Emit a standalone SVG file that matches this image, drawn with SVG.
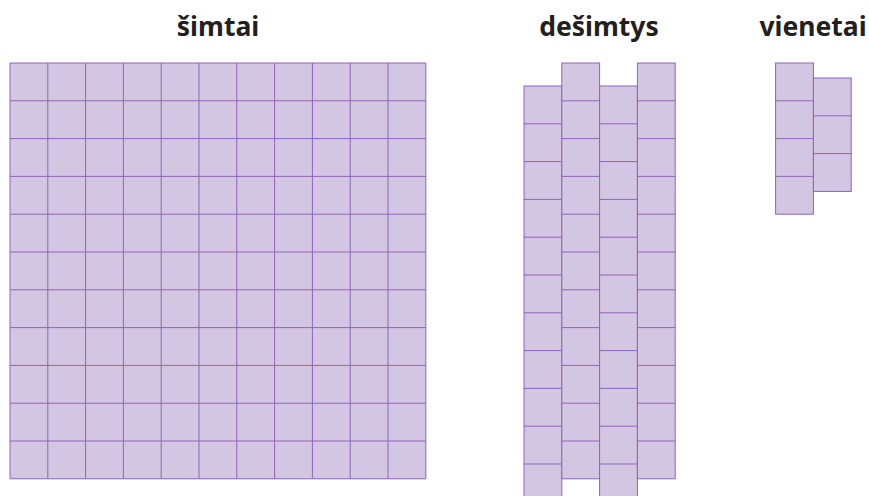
<svg xmlns="http://www.w3.org/2000/svg" width="869" height="496" viewBox="0 0 869 496">
<defs>
<style>
.t{font-family:"Noto Sans","Open Sans","DejaVu Sans",sans-serif;font-weight:bold;font-size:26.5px;fill:#231f20;text-anchor:middle}
.c{fill:#d3c6e2;stroke:#9163b9;stroke-width:1}
.l{stroke:#9163b9;stroke-width:1;fill:none}
</style>
</defs>
<rect width="869" height="496" fill="#fff"/>
<text class="t" x="218" y="36">šimtai</text>
<text class="t" x="599" y="36">dešimtys</text>
<text class="t" x="813" y="36">vienetai</text>
<g id="simtai">
<rect x="10" y="63" width="415.8" height="415.8" fill="#d3c6e2"/>
<path class="l" d="M10,63V478.8M47.8,63V478.8M85.6,63V478.8M123.4,63V478.8M161.2,63V478.8M199,63V478.8M236.8,63V478.8M274.6,63V478.8M312.4,63V478.8M350.2,63V478.8M388,63V478.8M425.8,63V478.8"/>
<path class="l" d="M10,63H425.8M10,100.8H425.8M10,138.6H425.8M10,176.4H425.8M10,214.2H425.8M10,252H425.8M10,289.8H425.8M10,327.6H425.8M10,365.4H425.8M10,403.2H425.8M10,441H425.8M10,478.8H425.8"/>
</g>
<g id="desimtys">
<g id="d1"><rect class="c" x="524" y="86" width="37.8" height="415.8"/>
<path class="l" d="M524,123.8h37.8M524,161.6h37.8M524,199.4h37.8M524,237.2h37.8M524,275h37.8M524,312.8h37.8M524,350.6h37.8M524,388.4h37.8M524,426.2h37.8M524,464h37.8"/></g>
<g id="d2"><rect class="c" x="561.8" y="63" width="37.8" height="415.8"/>
<path class="l" d="M561.8,100.8h37.8M561.8,138.6h37.8M561.8,176.4h37.8M561.8,214.2h37.8M561.8,252h37.8M561.8,289.8h37.8M561.8,327.6h37.8M561.8,365.4h37.8M561.8,403.2h37.8M561.8,441h37.8"/></g>
<g id="d3"><rect class="c" x="599.6" y="86" width="37.8" height="415.8"/>
<path class="l" d="M599.6,123.8h37.8M599.6,161.6h37.8M599.6,199.4h37.8M599.6,237.2h37.8M599.6,275h37.8M599.6,312.8h37.8M599.6,350.6h37.8M599.6,388.4h37.8M599.6,426.2h37.8M599.6,464h37.8"/></g>
<g id="d4"><rect class="c" x="637.4" y="63" width="37.8" height="415.8"/>
<path class="l" d="M637.4,100.8h37.8M637.4,138.6h37.8M637.4,176.4h37.8M637.4,214.2h37.8M637.4,252h37.8M637.4,289.8h37.8M637.4,327.6h37.8M637.4,365.4h37.8M637.4,403.2h37.8M637.4,441h37.8"/></g>
</g>
<g id="vienetai">
<g id="v1"><rect class="c" x="775.6" y="63" width="37.8" height="151.2"/>
<path class="l" d="M775.6,100.8h37.8M775.6,138.6h37.8M775.6,176.4h37.8"/></g>
<g id="v2"><rect class="c" x="813.4" y="78" width="37.8" height="113.4"/>
<path class="l" d="M813.4,115.8h37.8M813.4,153.6h37.8"/></g>
</g>
</svg>
